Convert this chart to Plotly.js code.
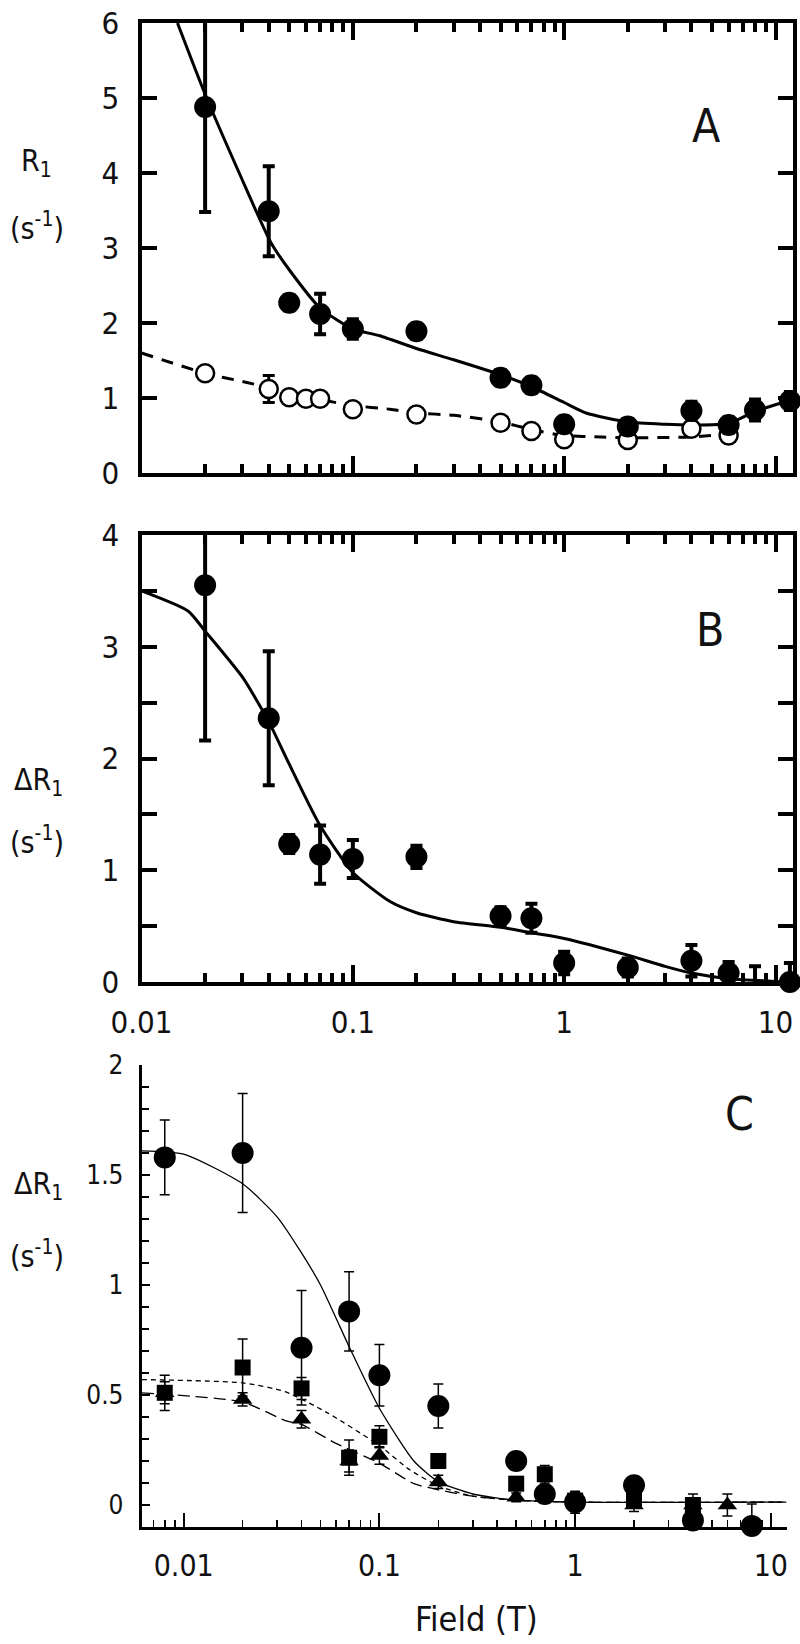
<!DOCTYPE html>
<html><head><meta charset="utf-8">
<script src="https://cdn.plot.ly/plotly-3.0.1.min.js"></script>
<style>body{margin:0;background:#fff}#chart{width:800px;height:1644px}</style>
</head><body><div id="chart"></div>
<script>
// ---------- Panel A ----------
const fieldA = [0.02, 0.04, 0.05, 0.07, 0.1, 0.2, 0.5, 0.7, 1, 2, 4, 6, 8, 11.7];
const r1Filled = [4.88, 3.49, 2.27, 2.12, 1.92, 1.89, 1.27, 1.17, 0.65, 0.62, 0.83, 0.64, 0.84, 0.96];
const r1FilledErr = [1.4, 0.6, 0.1, 0.27, 0.13, 0.1, 0.1, 0.1, 0.1, 0.1, 0.12, 0.1, 0.14, 0.12];
const fieldAOpen = [0.02, 0.04, 0.05, 0.06, 0.07, 0.1, 0.2, 0.5, 0.7, 1, 2, 4, 6];
const r1Open = [1.33, 1.12, 1.01, 0.99, 0.99, 0.85, 0.78, 0.67, 0.56, 0.45, 0.44, 0.59, 0.5];
const r1OpenErr = [0.05, 0.18, 0.05, 0.05, 0.05, 0.05, 0.05, 0.05, 0.05, 0.05, 0.05, 0.05, 0.05];
const fitAField = [0.0148, 0.02, 0.029, 0.041, 0.05, 0.07, 0.1, 0.134, 0.2, 0.3, 0.5, 0.7, 1, 1.27, 2, 3, 4, 6, 8, 11.7];
const fitAR1 = [6.0, 5.05, 4.0, 3.07, 2.71, 2.2, 1.92, 1.83, 1.66, 1.51, 1.31, 1.15, 0.94, 0.8, 0.68, 0.65, 0.64, 0.66, 0.82, 0.97];
const fitAOpenField = [0.01, 0.02, 0.03, 0.05, 0.07, 0.1, 0.15, 0.2, 0.3, 0.5, 0.7, 1, 1.5, 2, 4, 6];
const fitAOpenR1 = [1.6, 1.33, 1.22, 1.08, 0.98, 0.9, 0.85, 0.8, 0.77, 0.68, 0.58, 0.5, 0.48, 0.47, 0.48, 0.52];

// ---------- Panel B ----------
const fieldB = [0.02, 0.04, 0.05, 0.07, 0.1, 0.2, 0.5, 0.7, 1, 2, 4, 6, 8, 11.7];
const dR1B = [3.55, 2.36, 1.235, 1.14, 1.10, 1.12, 0.59, 0.57, 0.17, 0.13, 0.19, 0.08, -0.1, 0.0];
const dR1BErr = [1.39, 0.6, 0.08, 0.26, 0.17, 0.1, 0.08, 0.13, 0.1, 0.08, 0.14, 0.1, 0.24, 0.17];
const fitBField = [0.01, 0.0166, 0.02, 0.03, 0.04, 0.05, 0.07, 0.1, 0.15, 0.2, 0.3, 0.5, 0.7, 1, 2, 3, 4, 6, 11.7];
const fitBdR1 = [3.5, 3.32, 3.14, 2.73, 2.33, 1.95, 1.40, 0.98, 0.72, 0.62, 0.54, 0.49, 0.44, 0.39, 0.24, 0.14, 0.08, 0.03, 0.0];

// ---------- Panel C ----------
const fieldCCirc = [0.008, 0.02, 0.04, 0.07, 0.1, 0.2, 0.5, 0.7, 1, 2, 4, 8];
const dR1CCirc = [1.58, 1.60, 0.715, 0.88, 0.59, 0.45, 0.20, 0.05, 0.013, 0.09, -0.07, -0.095];
const dR1CCircErr = [0.17, 0.27, 0.26, 0.18, 0.14, 0.1, 0.04, 0.04, 0.05, 0.03, 0.09, 0.1];
const fieldCSq = [0.008, 0.02, 0.04, 0.07, 0.1, 0.2, 0.5, 0.7, 1, 2, 4];
const dR1CSq = [0.51, 0.625, 0.53, 0.215, 0.31, 0.2, 0.097, 0.14, 0.02, 0.02, 0.0];
const dR1CSqErr = [0.08, 0.13, 0.05, 0.08, 0.05, 0.03, 0.03, 0.04, 0.03, 0.03, 0.03];
const fieldCTri = [0.008, 0.02, 0.04, 0.07, 0.1, 0.2, 0.5, 1, 2, 4, 6];
const dR1CTri = [0.51, 0.48, 0.39, 0.2, 0.225, 0.105, 0.035, 0.01, 0.0, 0.0, 0.0];
const dR1CTriErr = [0.05, 0.03, 0.04, 0.05, 0.04, 0.03, 0.02, 0.03, 0.03, 0.05, 0.05];
const fitC1Field = [0.0061, 0.01, 0.02, 0.03, 0.04, 0.05, 0.06, 0.07, 0.1, 0.15, 0.2, 0.3, 0.5, 1, 12];
const fitC1 = [1.61, 1.595, 1.46, 1.31, 1.146, 1.0, 0.85, 0.72, 0.44, 0.2, 0.106, 0.05, 0.022, 0.013, 0.013];
const fitC2Field = [0.0061, 0.02, 0.033, 0.054, 0.1, 0.143, 0.2, 0.3, 0.5, 1, 12];
const fitC2 = [0.57, 0.555, 0.515, 0.42, 0.27, 0.16, 0.087, 0.04, 0.022, 0.013, 0.013];
const fitC3Field = [0.0061, 0.02, 0.033, 0.04, 0.06, 0.1, 0.15, 0.2, 0.3, 0.5, 1, 12];
const fitC3 = [0.51, 0.468, 0.384, 0.366, 0.28, 0.19, 0.097, 0.069, 0.04, 0.022, 0.013, 0.013];

// ---------- ticks ----------
const decadeTicks = [0.01, 0.1, 1, 10];
const decadeLabels = ['0.01', '0.1', '1', '10'];
const minorLogTicks = [0.02,0.03,0.04,0.05,0.06,0.07,0.08,0.09,0.2,0.3,0.4,0.5,0.6,0.7,0.8,0.9,2,3,4,5,6,7,8,9];
const minorLogTicksC = [0.007,0.008,0.009,0.02,0.03,0.04,0.05,0.06,0.07,0.08,0.09,0.2,0.3,0.4,0.5,0.6,0.7,0.8,0.9,2,3,4,5,6,7,8,9];
const yTicksA = [0,1,2,3,4,5,6];
const yTicksB = [0,1,2,3,4];
const yMinorB = [0.5,1.5,2.5,3.5];
const yTicksC = [0,0.5,1,1.5,2];
const yTickLabelsC = ['0','0.5','1','1.5','2'];
const yMinorC = [-0.1,0.1,0.2,0.3,0.4,0.6,0.7,0.8,0.9,1.1,1.2,1.3,1.4,1.6,1.7,1.8,1.9];

const W = 800, H = 1644;
const px = v => v / W, py = v => 1 - v / H;
const fAB = "'DejaVu Sans Condensed', 'Liberation Sans Narrow', 'Roboto Condensed', 'Noto Sans', sans-serif";
const fC = "'DejaVu Sans Condensed', 'Noto Sans', sans-serif";

function errTrace(x, y, e, xa, ya, th, w) {
  return {x, y, xaxis: xa, yaxis: ya, type: 'scatter', mode: 'markers', cliponaxis: true,
    marker: {size: 1, opacity: 0}, hoverinfo: 'skip', showlegend: false,
    error_y: {type: 'data', array: e, visible: true, thickness: th, width: w, color: '#000'}};
}
function markTrace(x, y, xa, ya, sym, size, color, lw) {
  return {x, y, xaxis: xa, yaxis: ya, type: 'scatter', mode: 'markers', cliponaxis: false,
    marker: {symbol: sym, size, color, line: {color: '#000', width: lw}}, showlegend: false};
}
function lineTrace(x, y, xa, ya, w, dash) {
  return {x, y, xaxis: xa, yaxis: ya, type: 'scatter', mode: 'lines', cliponaxis: true,
    line: {color: '#000', width: w, dash, shape: 'spline', smoothing: 0.6}, showlegend: false};
}

const data = [
  // A
  lineTrace(fitAOpenField, fitAOpenR1, 'x', 'y', 3, '12px,9px'),
  lineTrace(fitAField, fitAR1, 'x', 'y', 3, 'solid'),
  errTrace(fieldAOpen, r1Open, r1OpenErr, 'x', 'y', 3, 6),
  markTrace(fieldAOpen, r1Open, 'x', 'y', 'circle', 18, '#fff', 2.5),
  errTrace(fieldA, r1Filled, r1FilledErr, 'x', 'y', 4, 6),
  markTrace(fieldA, r1Filled, 'x', 'y', 'circle', 22, '#000', 0),
  // B
  lineTrace(fitBField, fitBdR1, 'x2', 'y2', 3, 'solid'),
  errTrace(fieldB, dR1B, dR1BErr, 'x2', 'y2', 4, 6),
  markTrace(fieldB, dR1B, 'x2', 'y2', 'circle', 22, '#000', 0),
  // C
  lineTrace(fitC1Field, fitC1, 'x3', 'y3', 1.3, 'solid'),
  lineTrace(fitC2Field, fitC2, 'x3', 'y3', 1.3, '5px,4px'),
  lineTrace(fitC3Field, fitC3, 'x3', 'y3', 1.3, '12px,6px'),
  errTrace(fieldCTri, dR1CTri, dR1CTriErr, 'x3', 'y3', 1.5, 5),
  markTrace(fieldCTri, dR1CTri, 'x3', 'y3', 'triangle-up', 17, '#000', 0),
  errTrace(fieldCSq, dR1CSq, dR1CSqErr, 'x3', 'y3', 1.5, 5),
  markTrace(fieldCSq, dR1CSq, 'x3', 'y3', 'square', 16, '#000', 0),
  errTrace(fieldCCirc, dR1CCirc, dR1CCircErr, 'x3', 'y3', 1.5, 5),
  markTrace(fieldCCirc, dR1CCirc, 'x3', 'y3', 'circle', 22, '#000', 0)
];

const logA = [-2, Math.log10(12.1)];
const logC = [Math.log10(0.0061), Math.log10(12.1)];
const domAx = [px(141.5), px(793)];
const domCx = [px(141.7), px(787)];

function xAB(anchor, labels) {
  return {type: 'log', range: logA, domain: domAx, anchor,
    showline: true, linewidth: 4, linecolor: '#000', mirror: 'ticks',
    showgrid: false, zeroline: false,
    tickmode: 'array', tickvals: decadeTicks, ticktext: decadeLabels,
    ticks: 'inside', ticklen: 17, tickwidth: 4, tickcolor: '#000',
    showticklabels: labels, ticklabelstandoff: 10,
    tickfont: {family: fAB, size: 31, color: '#111'},
    minor: {tickmode: 'array', tickvals: minorLogTicks, ticks: 'inside', ticklen: 9, tickwidth: 4, tickcolor: '#000', showgrid: false}};
}
function yAB(anchor, dom, range, vals, minorVals) {
  const ax = {range, domain: dom, anchor,
    showline: true, linewidth: 4, linecolor: '#000', mirror: 'ticks',
    showgrid: false, zeroline: false,
    tickmode: 'array', tickvals: vals, ticktext: vals.map(String),
    ticks: 'inside', ticklen: 15, tickwidth: 4, tickcolor: '#000',
    ticklabelstandoff: 12,
    tickfont: {family: fAB, size: 31, color: '#111'}};
  if (minorVals) ax.minor = {tickmode: 'array', tickvals: minorVals, ticks: 'inside', ticklen: 15, tickwidth: 4, tickcolor: '#000', showgrid: false};
  return ax;
}

function note(text, x, y, size, fam) {
  return {text, x: px(x), y: py(y), xref: 'paper', yref: 'paper', xanchor: 'center', yanchor: 'middle',
    showarrow: false, font: {family: fam || fAB, size, color: '#111'}};
}

const layout = {
  width: W, height: H, margin: {l: 0, r: 0, t: 0, b: 0},
  paper_bgcolor: '#fff', plot_bgcolor: 'rgba(0,0,0,0)', showlegend: false,
  xaxis: xAB('y', false),
  yaxis: yAB('x', [py(473), py(23)], [0, 6], yTicksA, null),
  xaxis2: xAB('y2', true),
  yaxis2: yAB('x2', [py(982), py(535)], [0, 4], yTicksB, yMinorB),
  xaxis3: {type: 'log', range: logC, domain: domCx, anchor: 'y3',
    showline: true, linewidth: 3, linecolor: '#000', showgrid: false, zeroline: false,
    tickmode: 'array', tickvals: decadeTicks, ticktext: decadeLabels,
    ticks: 'inside', ticklen: 14, tickwidth: 2, tickcolor: '#000',
    ticklabelstandoff: 10, tickfont: {family: fC, size: 30, color: '#111'},
    minor: {tickmode: 'array', tickvals: minorLogTicksC, ticks: 'inside', ticklen: 7, tickwidth: 1.5, tickcolor: '#000', showgrid: false}},
  xaxis4: {type: 'log', range: logC, domain: domCx, anchor: 'y3', overlaying: 'x3', side: 'top',
    showline: true, linewidth: 1.5, linecolor: '#000', showgrid: false, zeroline: false,
    tickmode: 'array', tickvals: decadeTicks, showticklabels: false,
    ticks: 'inside', ticklen: 14, tickwidth: 2, tickcolor: '#000',
    minor: {tickmode: 'array', tickvals: minorLogTicksC, ticks: 'inside', ticklen: 7, tickwidth: 1.5, tickcolor: '#000', showgrid: false}},
  yaxis3: {range: [-0.1, 2], domain: [py(1527), py(1065)], anchor: 'x3',
    showline: true, linewidth: 3, linecolor: '#000', showgrid: false, zeroline: false,
    tickmode: 'array', tickvals: yTicksC, ticktext: yTickLabelsC,
    ticks: 'inside', ticklen: 8, tickwidth: 2, tickcolor: '#000',
    ticklabelstandoff: 10, tickfont: {family: fC, size: 26, color: '#111'},
    minor: {tickmode: 'array', tickvals: yMinorC, ticks: 'inside', ticklen: 7, tickwidth: 2, tickcolor: '#000', showgrid: false}},
  yaxis4: {range: [-0.1, 2], domain: [py(1527), py(1065)], anchor: 'x3', overlaying: 'y3', side: 'right',
    showline: true, linewidth: 1.5, linecolor: '#000', showgrid: false, zeroline: false,
    tickmode: 'array', tickvals: yTicksC, showticklabels: false,
    ticks: 'inside', ticklen: 8, tickwidth: 2, tickcolor: '#000',
    minor: {tickmode: 'array', tickvals: yMinorC, ticks: 'inside', ticklen: 2, tickwidth: 2, tickcolor: '#000', showgrid: false}},
  annotations: [
    note('A', 706, 126, 46),
    note('B', 710, 630, 46),
    note('C', 739, 1114, 46),
    note('R<sub>1</sub>', 36, 163, 30),
    note('(s<sup>-1</sup>)', 37, 226, 30),
    note('\u0394R<sub>1</sub>', 38, 781, 30),
    note('(s<sup>-1</sup>)', 37, 840, 30),
    note('\u0394R<sub>1</sub>', 38, 1185, 30),
    note('(s<sup>-1</sup>)', 37, 1254, 30),
    note('Field (T)', 477, 1619, 34, fC)
  ]
};

Plotly.newPlot('chart', data, layout, {staticPlot: true, displayModeBar: false});
</script></body></html>
